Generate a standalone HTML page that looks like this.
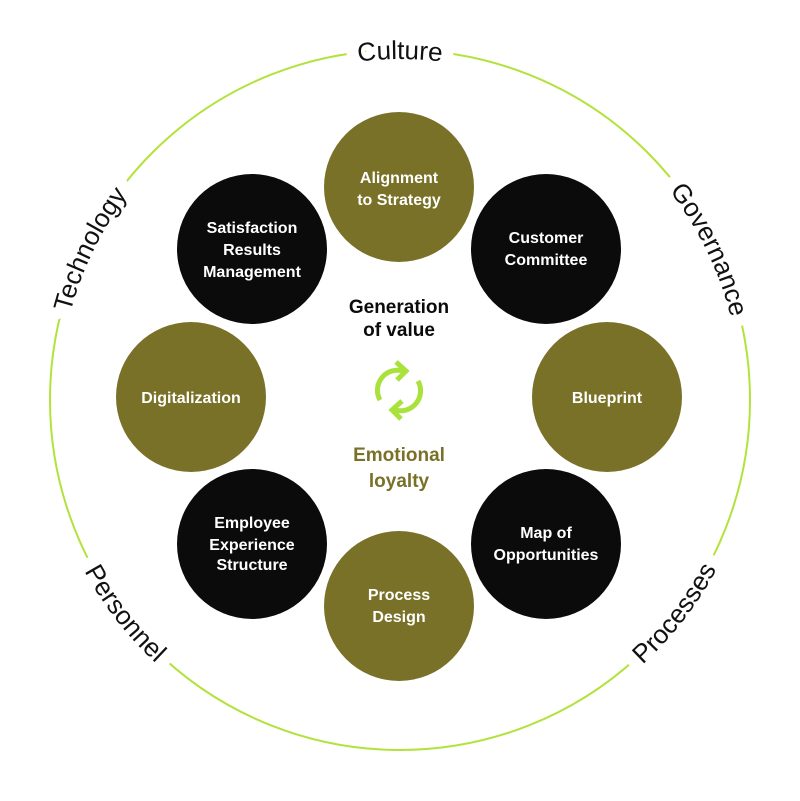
<!DOCTYPE html>
<html><head><style>
html,body{margin:0;padding:0;background:#fff;}
svg{display:block;}
.c{font-family:"Liberation Sans",sans-serif;font-weight:bold;font-size:16px;fill:#fff;text-anchor:middle;}
.o{font-family:"Liberation Sans",sans-serif;font-size:26px;fill:#111;text-anchor:middle;}
.b{font-family:"Liberation Sans",sans-serif;font-size:26px;fill:#fff;stroke:#fff;stroke-width:24px;stroke-linejoin:round;text-anchor:middle;}
</style></head><body>
<svg width="800" height="801" viewBox="0 0 800 801">
<defs>
<path id="cw" d="M 59,400 A 341 341 0 1 1 741,400 A 341 341 0 1 1 59,400"/>
<path id="ccw" d="M 41,400 A 359 359 0 1 0 759,400 A 359 359 0 1 0 41,400"/>
</defs>
<circle cx="400" cy="400" r="350" fill="none" stroke="#b3e23c" stroke-width="2"/>
<text class="b"><textPath href="#cw" startOffset="25%">Culture</textPath></text>
<text class="b"><textPath href="#cw" startOffset="7.2%">Technology</textPath></text>
<text class="b"><textPath href="#cw" startOffset="42.8%">Governance</textPath></text>
<text class="b"><textPath href="#ccw" startOffset="10.5%">Personnel</textPath></text>
<text class="b"><textPath href="#ccw" startOffset="39.5%">Processes</textPath></text>
<text class="o"><textPath href="#cw" startOffset="25%">Culture</textPath></text>
<text class="o"><textPath href="#cw" startOffset="7.2%">Technology</textPath></text>
<text class="o"><textPath href="#cw" startOffset="42.8%">Governance</textPath></text>
<text class="o"><textPath href="#ccw" startOffset="10.5%">Personnel</textPath></text>
<text class="o"><textPath href="#ccw" startOffset="39.5%">Processes</textPath></text>

<circle cx="399" cy="187" r="75" fill="#7a7128"/>
<circle cx="546" cy="249" r="75" fill="#0b0b0b"/>
<circle cx="607" cy="397" r="75" fill="#7a7128"/>
<circle cx="546" cy="544" r="75" fill="#0b0b0b"/>
<circle cx="399" cy="606" r="75" fill="#7a7128"/>
<circle cx="252" cy="544" r="75" fill="#0b0b0b"/>
<circle cx="191" cy="397" r="75" fill="#7a7128"/>
<circle cx="252" cy="249" r="75" fill="#0b0b0b"/>

<text class="c" x="399" y="183">Alignment</text><text class="c" x="399" y="205">to Strategy</text>
<text class="c" x="546" y="243">Customer</text><text class="c" x="546" y="265">Committee</text>
<text class="c" x="607" y="403">Blueprint</text>
<text class="c" x="546" y="538">Map of</text><text class="c" x="546" y="560">Opportunities</text>
<text class="c" x="399" y="600">Process</text><text class="c" x="399" y="622">Design</text>
<text class="c" x="252" y="528">Employee</text><text class="c" x="252" y="550">Experience</text><text class="c" x="252" y="570">Structure</text>
<text class="c" x="191" y="403">Digitalization</text>
<text class="c" x="252" y="233">Satisfaction</text><text class="c" x="252" y="255">Results</text><text class="c" x="252" y="277">Management</text>

<g font-family="Liberation Sans,sans-serif" font-weight="bold" font-size="19" text-anchor="middle">
<text x="399" y="313" fill="#0b0b0b">Generation</text>
<text x="399" y="336" fill="#0b0b0b">of value</text>
<text x="399" y="461" fill="#7a7128">Emotional</text>
<text x="399" y="487" fill="#7a7128">loyalty</text>
</g>
<g fill="none" stroke="#a8e23a" stroke-width="5" stroke-linecap="butt">
<path d="M 380,400 A 20 20 0 0 1 403,371"/>
<path d="M 396,362 L 406,371 L 397,380"/>
<path d="M 418,381 A 20 20 0 0 1 395,410"/>
<path d="M 402,401 L 392,410 L 401,419"/>
</g>
</svg>
</body></html>
